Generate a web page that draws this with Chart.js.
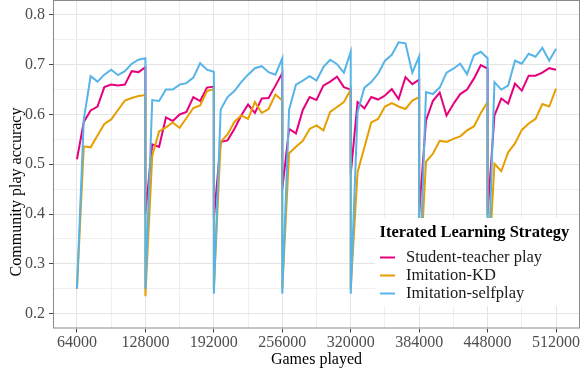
<!DOCTYPE html>
<html>
<head>
<meta charset="utf-8">
<script src="https://cdn.jsdelivr.net/npm/chart.js@4.4.1/dist/chart.umd.min.js"></script>
<style>
    html, body { margin: 0; padding: 0; background: #fff; }
    #wrap { width: 582px; height: 371px; position: relative; }
</style>
</head>
<body>
<div id="wrap"><canvas id="chart"></canvas></div>
<script>
// Series names / colours
const seriesNames = ['Student-teacher play', 'Imitation-KD', 'Imitation-selfplay'];
const seriesColors = ['#e6007e', '#e69f00', '#56b4e9'];

// Each generation starts at these game counts, 11 evaluations per generation
const genStarts = [64000, 128000, 192000, 256000, 320000, 384000, 448000];
const evalStep = 6400;
const evalsPerGen = 11;

// Axis ticks (major ones get labels)
const xTicks = [64000, 96000, 128000, 160000, 192000, 224000, 256000, 288000, 320000,
                352000, 384000, 416000, 448000, 480000, 512000];
const yTicks = [0.2, 0.25, 0.3, 0.35, 0.4, 0.45, 0.5, 0.55, 0.6, 0.65, 0.7, 0.75, 0.8];

// Community play accuracy, one row per generation
const studentTeacher = [
    0.51, 0.585, 0.608, 0.616, 0.655, 0.66, 0.658, 0.66, 0.687, 0.685, 0.695,
    0.40, 0.54, 0.535, 0.594, 0.587, 0.60, 0.605, 0.635, 0.627, 0.654, 0.656,
    0.39, 0.545, 0.548, 0.571, 0.598, 0.62, 0.603, 0.632, 0.633, 0.658, 0.683,
    0.45, 0.571, 0.562, 0.609, 0.635, 0.629, 0.658, 0.666, 0.676, 0.655, 0.65,
    0.48, 0.625, 0.612, 0.635, 0.63, 0.638, 0.651, 0.631, 0.675, 0.661, 0.67,
    0.40, 0.588, 0.627, 0.644, 0.598, 0.621, 0.641, 0.65, 0.672, 0.699, 0.692,
    0.40, 0.598, 0.632, 0.622, 0.662, 0.648, 0.678, 0.678, 0.684, 0.693, 0.69
];
const imitationKD = [
    0.25, 0.536, 0.534, 0.558, 0.581, 0.59, 0.609, 0.628, 0.633, 0.637, 0.639,
    0.235, 0.517, 0.566, 0.574, 0.584, 0.573, 0.593, 0.613, 0.618, 0.647, 0.651,
    0.25, 0.545, 0.56, 0.585, 0.598, 0.591, 0.625, 0.603, 0.611, 0.64, 0.628,
    0.25, 0.522, 0.535, 0.547, 0.571, 0.578, 0.568, 0.605, 0.615, 0.625, 0.65,
    0.25, 0.484, 0.534, 0.584, 0.591, 0.616, 0.623, 0.616, 0.611, 0.628, 0.635,
    0.25, 0.505, 0.521, 0.547, 0.545, 0.551, 0.556, 0.568, 0.576, 0.603, 0.625,
    0.25, 0.501, 0.486, 0.524, 0.542, 0.569, 0.582, 0.591, 0.621, 0.616, 0.652
];
const imitationSelfplay = [
    0.25, 0.59, 0.677, 0.666, 0.68, 0.69, 0.679, 0.687, 0.702, 0.71, 0.713,
    0.25, 0.629, 0.627, 0.65, 0.65, 0.66, 0.663, 0.674, 0.703, 0.69, 0.686,
    0.24, 0.61, 0.635, 0.647, 0.665, 0.68, 0.693, 0.697, 0.685, 0.68, 0.713,
    0.24, 0.61, 0.66, 0.668, 0.677, 0.668, 0.695, 0.71, 0.701, 0.684, 0.726,
    0.24, 0.605, 0.654, 0.665, 0.682, 0.708, 0.72, 0.745, 0.743, 0.684, 0.717,
    0.24, 0.645, 0.641, 0.654, 0.684, 0.692, 0.702, 0.681, 0.719, 0.726, 0.713,
    0.24, 0.665, 0.65, 0.658, 0.708, 0.702, 0.722, 0.716, 0.734, 0.708, 0.732
];

const FONT = "'Liberation Serif', 'Times New Roman', serif";

function toPoints(values) {
    const pts = [];
    genStarts.forEach((start, g) => {
        for (let s = 0; s < evalsPerGen; s++) {
            pts.push({ x: start + s * evalStep, y: values[g * evalsPerGen + s] });
        }
    });
    return pts;
}

const isMajorX = v => v % 64000 === 0;
const isMajorY = v => Math.abs(v * 10 - Math.round(v * 10)) < 1e-6;

// Border, y title and legend box drawn on top, ggplot style
const decorPlugin = {
    id: 'decor',
    afterDraw(chart) {
        const ctx = chart.ctx;
        const a = chart.chartArea;
        ctx.save();

        // legend box
        const lx = 375, ly = 218, lw = 204, lh = 88;
        ctx.fillStyle = '#fff';
        ctx.fillRect(lx, ly, lw, lh);
        ctx.fillStyle = '#000';
        ctx.textBaseline = 'middle';
        ctx.textAlign = 'left';
        ctx.font = 'bold 16.5px ' + FONT;
        ctx.fillText('Iterated Learning Strategy', 379.5, 233);
        ctx.font = '16.5px ' + FONT;
        seriesNames.forEach((name, i) => {
            const y = 257.5 + i * 18;
            ctx.strokeStyle = seriesColors[i];
            ctx.lineWidth = 2;
            ctx.beginPath();
            ctx.moveTo(380, y);
            ctx.lineTo(395, y);
            ctx.stroke();
            ctx.fillStyle = '#1a1a1a';
            ctx.fillText(name, 406, y);
        });

        // panel border
        ctx.strokeStyle = '#8a8a8a';
        ctx.lineWidth = 1;
        ctx.strokeRect(a.left + 0.5, a.top + 0.5, a.right - a.left - 1, a.bottom - a.top - 1);

        // y title
        ctx.translate(17, 192);
        ctx.rotate(-Math.PI / 2);
        ctx.textAlign = 'center';
        ctx.fillStyle = '#000';
        ctx.font = '16px ' + FONT;
        ctx.fillText('Community play accuracy', 0, 0);
        ctx.restore();
    }
};

const datasets = [studentTeacher, imitationKD, imitationSelfplay].map((vals, i) => ({
    label: seriesNames[i],
    data: toPoints(vals),
    borderColor: seriesColors[i],
    backgroundColor: seriesColors[i],
    borderWidth: 2,
    pointRadius: 0,
    tension: 0,
    order: 3 - i
}));

new Chart(document.getElementById('chart'), {
    type: 'line',
    data: { datasets: datasets },
    options: {
        responsive: true,
        maintainAspectRatio: false,
        animation: false,
        devicePixelRatio: 1,
        layout: { padding: { top: 0, right: 2, left: 0, bottom: 0 } },
        plugins: {
            legend: { display: false },
            tooltip: { enabled: false }
        },
        scales: {
            x: {
                type: 'linear',
                min: 41600,
                max: 534400,
                afterBuildTicks: s => { s.ticks = xTicks.map(v => ({ value: v })); },
                afterFit: s => { s.height = 42.5; s.paddingLeft = 0; s.paddingRight = 0; },
                border: { display: false },
                grid: {
                    color: c => isMajorX(c.tick.value) ? '#e4e4e4' : '#efefef',
                    lineWidth: 1,
                    tickColor: c => isMajorX(c.tick.value) ? '#444' : 'rgba(0,0,0,0)',
                    tickLength: 4
                },
                ticks: {
                    autoSkip: false,
                    maxRotation: 0,
                    padding: 1,
                    color: '#4d4d4d',
                    font: { family: FONT, size: 16 },
                    callback: v => isMajorX(v) ? String(v) : ''
                },
                title: {
                    display: true,
                    text: 'Games played',
                    color: '#000',
                    font: { family: FONT, size: 16 },
                    padding: { top: 0, bottom: 2 }
                }
            },
            y: {
                min: 0.17,
                max: 0.83,
                afterBuildTicks: s => { s.ticks = yTicks.map(v => ({ value: v })); },
                afterFit: s => { s.width = 53; s.paddingTop = 0; s.paddingBottom = 0; },
                border: { display: false },
                grid: {
                    color: c => isMajorY(c.tick.value) ? '#e4e4e4' : '#efefef',
                    lineWidth: 1,
                    tickColor: c => isMajorY(c.tick.value) ? '#444' : 'rgba(0,0,0,0)',
                    tickLength: 4
                },
                ticks: {
                    autoSkip: false,
                    padding: 4,
                    color: '#4d4d4d',
                    font: { family: FONT, size: 16 },
                    callback: v => isMajorY(v) ? v.toFixed(1) : ''
                }
            }
        }
    },
    plugins: [decorPlugin]
});
</script>
</body>
</html>
